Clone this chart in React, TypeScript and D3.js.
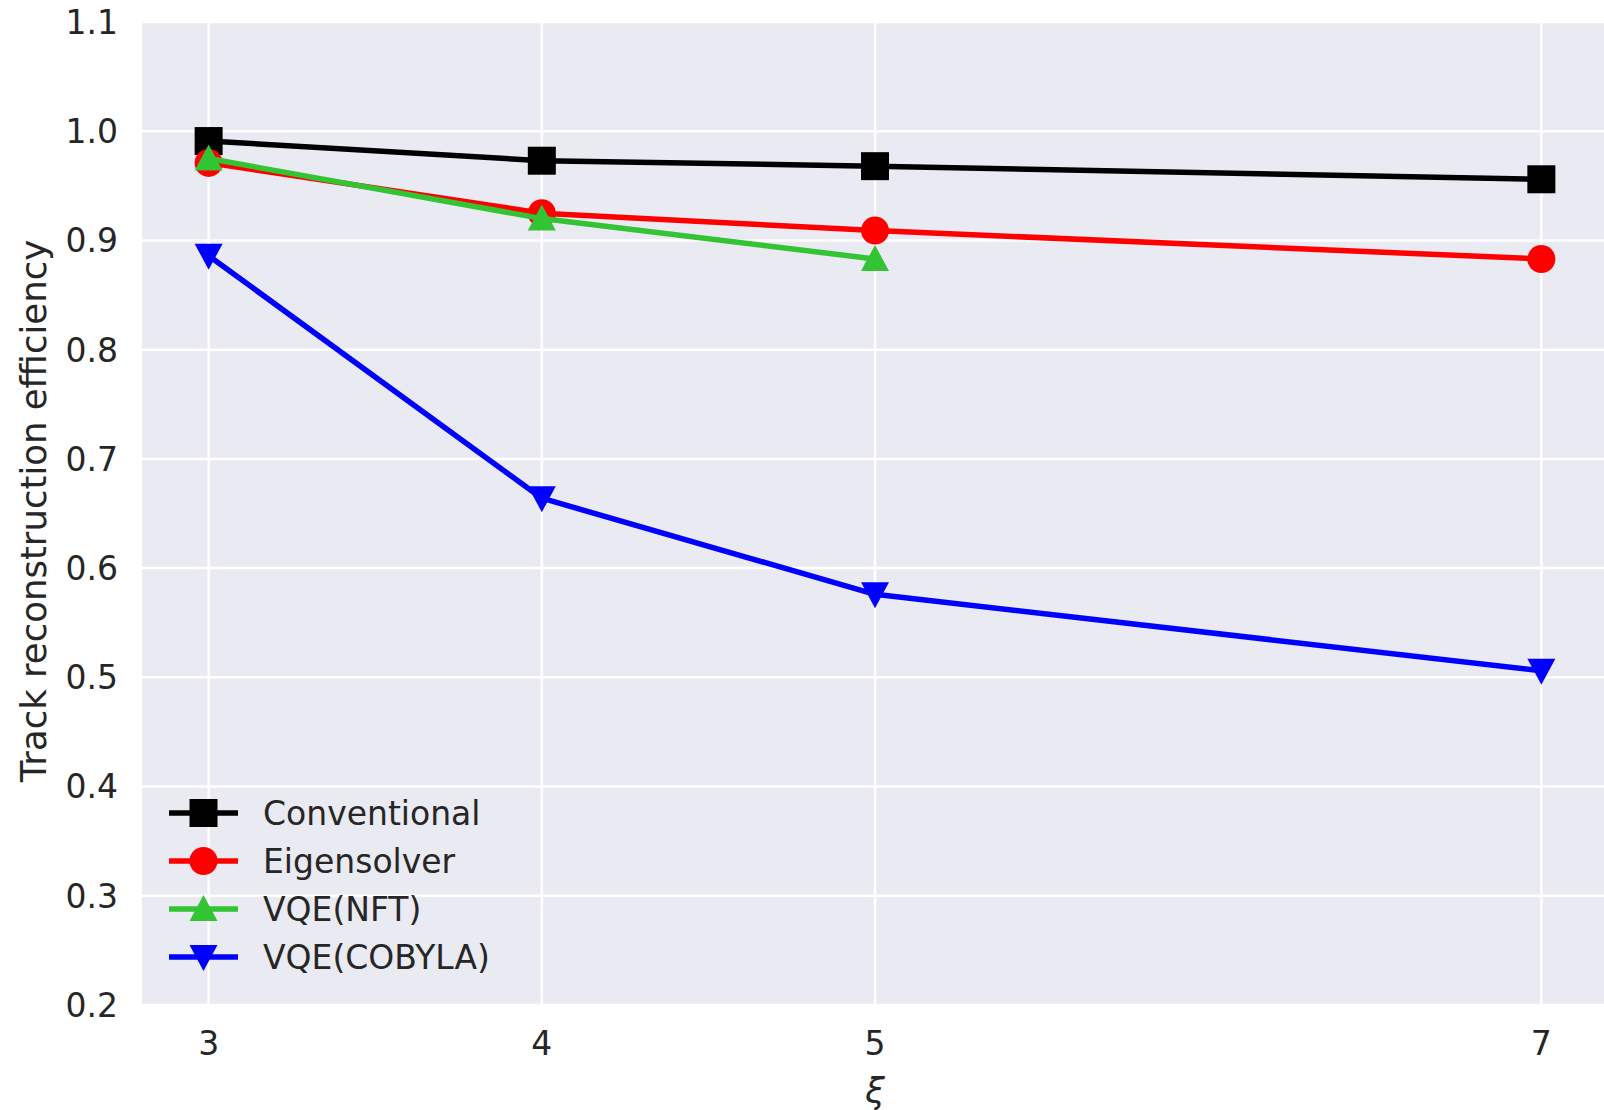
import React, { useRef, useEffect } from "react";
import * as d3 from "d3";

const xValues = [3, 4, 5, 7];
const xTicks = [3, 4, 5, 7];
const yTicks = [0.2, 0.3, 0.4, 0.5, 0.6, 0.7, 0.8, 0.9, 1.0, 1.1];

const conventional = [0.991, 0.973, 0.968, 0.956];
const eigensolver = [0.971, 0.925, 0.909, 0.883];
const vqeNft = [0.975, 0.92, 0.883];
const vqeCobyla = [0.886, 0.664, 0.576, 0.506];

const seriesNames = ["Conventional", "Eigensolver", "VQE(NFT)", "VQE(COBYLA)"];
const seriesColors = ["#000000", "#ff0000", "#33c433", "#0000ff"];
const seriesMarkers = ["square", "circle", "triangle", "triangleDown"];

const App: React.FC = () => {
  const svgRef = useRef<SVGSVGElement>(null);

  useEffect(() => {
    if (!svgRef.current) return;
    const svg = d3.select(svgRef.current);
    svg.selectAll("*").remove();

    const W = 1604;
    const H = 1110;
    const left = 142;
    const top = 22;
    const bottom = 1005;

    const x = d3.scaleLinear().domain([2.8, 7.2]).range([left, 1608]);
    const y = d3.scaleLinear().domain([0.2, 1.1]).range([bottom, top]);

    svg.attr("width", W).attr("height", H);
    svg.append("rect").attr("width", W).attr("height", H).attr("fill", "#ffffff");

    // plot background
    svg.append("rect")
      .attr("x", left)
      .attr("y", top)
      .attr("width", W - left)
      .attr("height", bottom - top)
      .attr("fill", "#eaeaf2");

    const grid = svg.append("g");
    grid.selectAll("line.h")
      .data(yTicks)
      .join("line")
      .attr("x1", left)
      .attr("x2", W)
      .attr("y1", (d) => y(d))
      .attr("y2", (d) => y(d))
      .attr("stroke", "#ffffff")
      .attr("stroke-width", 2.5);
    grid.selectAll("line.v")
      .data(xTicks)
      .join("line")
      .attr("class", "v")
      .attr("x1", (d) => x(d))
      .attr("x2", (d) => x(d))
      .attr("y1", top)
      .attr("y2", bottom)
      .attr("stroke", "#ffffff")
      .attr("stroke-width", 2.5);

    const font = "'DejaVu Sans', sans-serif";
    const textColor = "#262626";

    svg.append("g")
      .selectAll("text")
      .data(yTicks)
      .join("text")
      .attr("x", 118)
      .attr("y", (d) => y(d))
      .attr("dy", "0.36em")
      .attr("text-anchor", "end")
      .attr("font-family", font)
      .attr("font-size", 33)
      .attr("fill", textColor)
      .text((d) => d.toFixed(1));

    svg.append("g")
      .selectAll("text")
      .data(xTicks)
      .join("text")
      .attr("x", (d) => x(d))
      .attr("y", 1043)
      .attr("dy", "0.36em")
      .attr("text-anchor", "middle")
      .attr("font-family", font)
      .attr("font-size", 33)
      .attr("fill", textColor)
      .text((d) => String(d));

    svg.append("text")
      .attr("x", x(5))
      .attr("y", 1090)
      .attr("dy", "0.36em")
      .attr("text-anchor", "middle")
      .attr("font-family", font)
      .attr("font-style", "italic")
      .attr("font-size", 35)
      .attr("fill", textColor)
      .text("ξ");

    svg.append("text")
      .attr("transform", `translate(33, 511) rotate(-90)`)
      .attr("dy", "0.36em")
      .attr("text-anchor", "middle")
      .attr("font-family", font)
      .attr("font-size", 35.5)
      .attr("fill", textColor)
      .text("Track reconstruction efficiency");

    const markerPath = (kind: string) => {
      if (kind === "square") return "M-14,-14H14V14H-14Z";
      if (kind === "circle") return d3.symbol(d3.symbolCircle, Math.PI * 14 * 14)() as string;
      if (kind === "triangle") return "M0,-14L14,12L-14,12Z";
      return "M0,14L14,-12L-14,-12Z";
    };

    const allSeries = [conventional, eigensolver, vqeNft, vqeCobyla];
    const line = d3.line<number>()
      .x((_, i) => x(xValues[i]))
      .y((d) => y(d));

    const plot = svg.append("g");
    allSeries.forEach((vals, s) => {
      const g = plot.append("g");
      g.append("path")
        .datum(vals)
        .attr("fill", "none")
        .attr("stroke", seriesColors[s])
        .attr("stroke-width", 5.5)
        .attr("stroke-linejoin", "round")
        .attr("d", line);
      g.selectAll("path.m")
        .data(vals)
        .join("path")
        .attr("class", "m")
        .attr("transform", (d, i) => `translate(${x(xValues[i])}, ${y(d)})`)
        .attr("d", markerPath(seriesMarkers[s]))
        .attr("fill", seriesColors[s]);
    });

    // legend
    const legend = svg.append("g");
    seriesNames.forEach((name, s) => {
      const ly = 813 + s * 48;
      legend.append("line")
        .attr("x1", 169)
        .attr("x2", 238)
        .attr("y1", ly)
        .attr("y2", ly)
        .attr("stroke", seriesColors[s])
        .attr("stroke-width", 5.5);
      legend.append("path")
        .attr("transform", `translate(203.5, ${ly})`)
        .attr("d", markerPath(seriesMarkers[s]))
        .attr("fill", seriesColors[s]);
      legend.append("text")
        .attr("x", 263)
        .attr("y", ly)
        .attr("dy", "0.36em")
        .attr("font-family", font)
        .attr("font-size", 33)
        .attr("fill", textColor)
        .text(name);
    });

    return () => {
      svg.selectAll("*").remove();
    };
  }, []);

  return <svg ref={svgRef} style={{ position: "absolute", left: 0, top: 0 }}></svg>;
};

export default App;
